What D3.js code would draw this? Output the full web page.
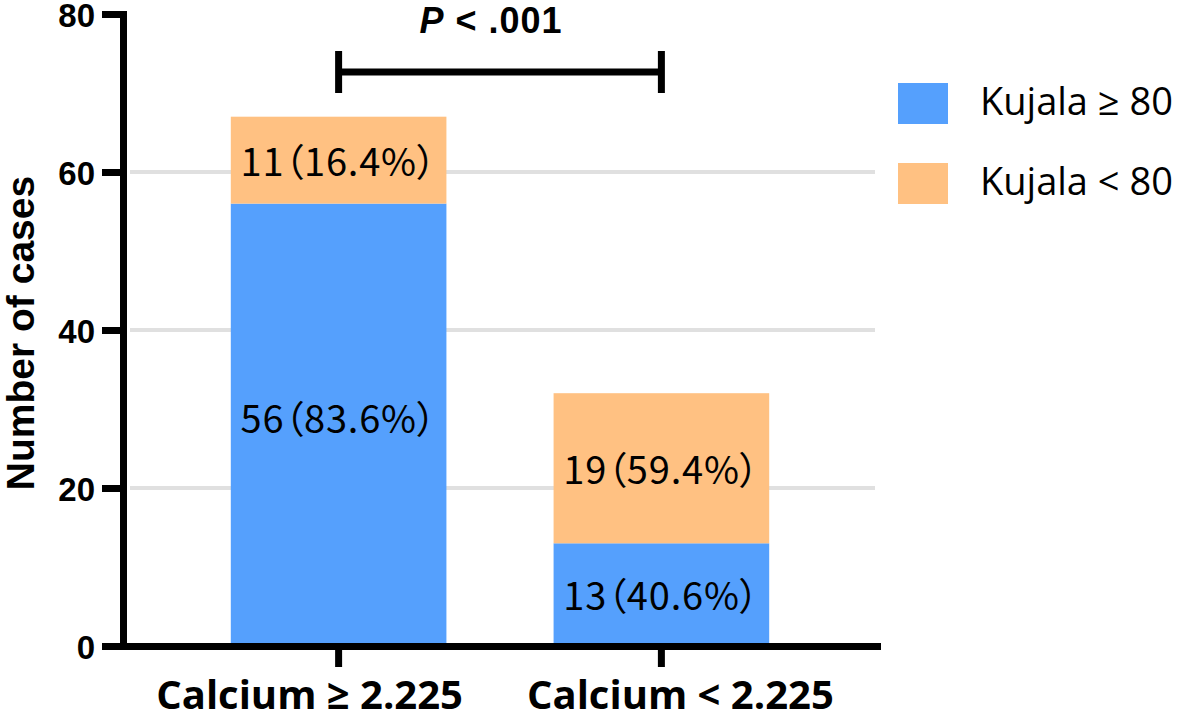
<!DOCTYPE html>
<html lang="en">
<head>
    <meta charset="UTF-8">
    <title>Kujala by calcium group</title>
    <script src="https://d3js.org/d3.v7.min.js"></script>
    <style>
        body { margin: 0; background: #fff; }
        .axis path, .axis line { stroke: #000; stroke-width: 7px; stroke-linecap: square; }
        .axis line { stroke-linecap: butt; }
        .y-axis text { font: bold 33px "Liberation Sans", Arial, sans-serif; fill: #000; }
        .x-axis text { font: bold 40px "Open Sans", sans-serif; fill: #000; }
        .bar-label { font: 38px "Noto Sans CJK SC", sans-serif; font-feature-settings: "palt"; letter-spacing: 0.8px; fill: #000; }
        .legend text { font: 38px "Open Sans", sans-serif; fill: #000; }
    </style>
</head>
<body>
    <svg width="1179" height="726"></svg>
    <script>
        // chart values
        const categories = ["Calcium ≥ 2.225", "Calcium < 2.225"];
        const kujalaHigh = [56, 13];   // Kujala ≥ 80
        const kujalaLow = [11, 19];    // Kujala < 80
        const seriesNames = ["Kujala ≥ 80", "Kujala < 80"];
        const yTicks = [0, 20, 40, 60, 80];
        const pLabel = ".001";

        const colors = ["#55a0fd", "#ffc182"];

        const svg = d3.select("svg");

        const x = d3.scaleBand()
            .domain(categories)
            .range([123, 877])
            .paddingInner(0.332)
            .paddingOuter(0.334);

        const y = d3.scaleLinear()
            .domain([0, 80])
            .range([646, 14]);

        // gridlines (not at 0 / 80)
        svg.append("g")
            .selectAll("line")
            .data(yTicks.filter(d => d > 0 && d < 80))
            .join("line")
            .attr("x1", 130)
            .attr("x2", 875)
            .attr("y1", d => y(d))
            .attr("y2", d => y(d))
            .attr("stroke", "#e0e0e0")
            .attr("stroke-width", 4);

        // stacked bars
        const rows = categories.map((c, i) => ({ cat: c, high: kujalaHigh[i], low: kujalaLow[i] }));
        const stack = d3.stack().keys(["high", "low"])(rows);

        const layer = svg.append("g")
            .selectAll("g")
            .data(stack)
            .join("g")
            .attr("fill", (d, i) => colors[i]);

        layer.selectAll("rect")
            .data(d => d)
            .join("rect")
            .attr("x", d => x(d.data.cat))
            .attr("width", x.bandwidth())
            .attr("y", d => y(d[1]))
            .attr("height", d => y(d[0]) - y(d[1]));

        // labels inside each segment: count（percent）
        const fmt = d3.format(".1f");
        layer.selectAll("text")
            .data(d => d.map(s => ({ s, key: d.key })))
            .join("text")
            .attr("class", "bar-label")
            .attr("x", d => x(d.s.data.cat) + x.bandwidth() / 2)
            .attr("y", d => (y(d.s[0]) + y(d.s[1])) / 2 - (d.s[1] - d.s[0] > 40 ? 8 : 1))
            .attr("text-anchor", "middle")
            .attr("dominant-baseline", "central")
            .text(d => {
                const v = d.s.data[d.key];
                const total = d.s.data.high + d.s.data.low;
                return v + "（" + fmt(v / total * 100) + "%）";
            });

        // axes
        const yAxis = svg.append("g")
            .attr("class", "axis y-axis")
            .attr("transform", "translate(123,0)")
            .call(d3.axisLeft(y).tickValues(yTicks).tickSize(21).tickSizeOuter(0).tickPadding(7));
        yAxis.selectAll(".tick text").attr("dy", "0.38em");

        const xAxis = svg.append("g")
            .attr("class", "axis x-axis")
            .attr("transform", "translate(0,646)")
            .call(d3.axisBottom(x).tickSize(21).tickSizeOuter(0).tickPadding(14));

        // the two category labels sit spread apart a little from their ticks
        xAxis.selectAll(".tick text")
            .attr("dx", (d, i) => i === 0 ? -29 : 19);

        svg.append("text")
            .attr("transform", "translate(34,333) rotate(-90)")
            .attr("text-anchor", "middle")
            .style("font", "bold 39px 'Liberation Sans', Arial, sans-serif")
            .text("Number of cases");

        // significance bracket
        const bx1 = x(categories[0]) + x.bandwidth() / 2;
        const bx2 = x(categories[1]) + x.bandwidth() / 2;
        const br = svg.append("g").attr("stroke", "#000").attr("stroke-width", 7);
        br.append("line").attr("x1", bx1).attr("x2", bx2).attr("y1", 72).attr("y2", 72);
        br.append("line").attr("x1", bx1).attr("x2", bx1).attr("y1", 51).attr("y2", 93);
        br.append("line").attr("x1", bx2).attr("x2", bx2).attr("y1", 51).attr("y2", 93);

        const pt = svg.append("text")
            .attr("x", (bx1 + bx2) / 2 - 9)
            .attr("y", 33)
            .attr("text-anchor", "middle")
            .style("font", "bold 36px 'Liberation Sans', Arial, sans-serif")
            .style("letter-spacing", "1px");
        pt.append("tspan").style("font-style", "italic").text("P");
        pt.append("tspan").text(" < " + pLabel);

        // legend
        const legend = svg.append("g").attr("class", "legend")
            .selectAll("g")
            .data(seriesNames)
            .join("g")
            .attr("transform", (d, i) => `translate(898,${83 + i * 80})`);
        legend.append("rect")
            .attr("width", 50)
            .attr("height", 41)
            .attr("fill", (d, i) => colors[i]);
        legend.append("text")
            .attr("x", 82)
            .attr("y", 32)
            .text(d => d);
    </script>
</body>
</html>
